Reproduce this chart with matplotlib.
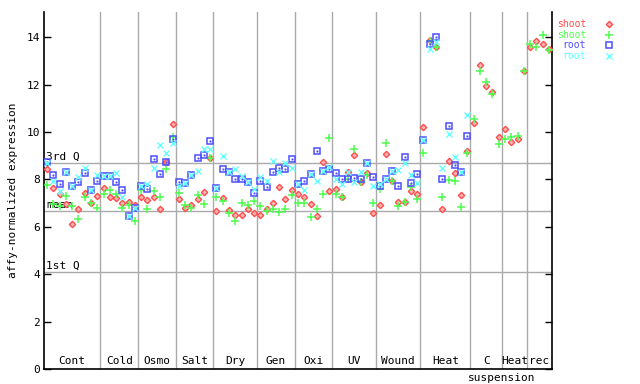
import numpy as np
import matplotlib
matplotlib.use("Agg")
import matplotlib.pyplot as plt
from matplotlib.transforms import blended_transform_factory

# --- data ---
groups = ["Cont", "Cold", "Osmo", "Salt", "Dry", "Gen", "Oxi", "UV", "Wound",
          "Heat", "C", "Heat", "rec"]
group_sizes = [9, 6, 6, 6, 7, 6, 6, 7, 7, 8, 5, 4, 4]

shoot_red = [8.42, 7.62, 7.37, 6.96, 6.12, 6.73, 7.41, 7.00, 7.30,
             7.62, 7.24, 7.20, 6.99, 7.05, 6.90,
             7.24, 7.13, 7.27, 6.74, 8.72, 10.34,
             7.19, 6.78, 6.90, 7.16, 7.47, 8.90,
             6.65, 7.22, 6.71, 6.51, 6.51, 6.74, 6.57,
             6.48, 6.74, 6.99, 7.66, 7.16, 7.55,
             7.37, 7.27, 6.94, 6.46, 8.72, 7.51,
             7.58, 7.27, 8.30, 9.01, 7.87, 8.25, 6.57,
             6.90, 9.07, 7.91, 7.03, 7.06, 7.53, 7.38,
             10.20, 13.88, 13.57, 6.74, 8.76, 8.25, 7.32, 9.18,
             10.39, 12.81, 11.93, 11.70, 9.77,
             10.11, 9.58, 9.70, 12.57,
             13.57, 13.82, 13.69, 13.52]

shoot_green = [7.76, 6.96, 6.86, 7.30, 6.88, 6.33, 7.24, 7.00, 6.79,
               7.37, 7.55, 7.37, 6.79, 6.90, 6.23,
               7.55, 6.74, 7.49, 7.24, 8.45, 9.80,
               7.41, 6.90, 6.79, 7.32, 6.96, 8.90,
               7.24, 7.07, 6.57, 6.23, 6.99, 6.90, 7.07,
               6.88, 6.65, 6.74, 6.62, 6.76, 7.32,
               6.99, 6.99, 6.40, 6.74, 7.37, 9.73,
               7.37, 7.27, 8.00, 9.27, 7.87, 8.20, 6.99,
               7.60, 9.52, 7.95, 6.86, 7.06, 7.66, 7.19,
               9.10, 13.85, 13.57, 7.24, 7.96, 7.91, 6.82, 9.10,
               10.56, 12.56, 12.11, 11.60, 9.49,
               9.70, 9.77, 9.85, 12.57,
               13.73, 13.60, 14.07, 13.44]

nan = np.nan
root_blue = [8.72, 8.19, 7.79, 8.33, 7.72, 7.89, 8.26, 7.55, 7.93,
             8.14, 8.14, 7.89, 7.55, 6.46, 6.79,
             7.74, 7.60, 8.85, 8.23, 8.72, 9.70,
             7.89, 7.83, 8.20, 8.89, 9.01, 9.60,
             7.64, 8.42, 8.31, 8.00, 8.00, 7.87, 7.41,
             7.93, 7.66, 8.30, 8.46, 8.42, 8.85,
             7.79, 7.93, 8.21, 9.20, 8.37, 8.42,
             8.27, 8.00, 8.00, 8.04, 8.03, 8.68, 8.11,
             7.72, 8.00, 8.35, 7.74, 8.93, 7.83, 8.21,
             9.68, 13.71, 13.99, 8.00, 10.23, 8.59, 8.29, 9.85,
             nan, nan, nan, nan, nan,
             nan, nan, nan, nan,
             nan, nan, nan, nan]

root_cyan = [8.70, 7.93, 7.52, 8.33, 7.72, 8.10, 8.48, 7.55, 8.19,
             8.14, 8.14, 8.26, 7.27, 6.46, 6.79,
             7.70, 7.81, 8.50, 9.43, 9.10, 9.52,
             7.72, 7.83, 8.20, 8.34, 9.27, 9.30,
             7.64, 8.97, 8.31, 8.45, 8.14, 7.87, 7.60,
             8.08, 7.93, 8.76, 8.29, 8.71, 8.46,
             7.79, 7.55, 8.21, 7.93, 8.37, 8.54,
             8.03, 7.79, 8.31, 7.90, 8.30, 8.68, 7.71,
             7.80, 8.00, 8.35, 8.38, 8.68, 8.17, 7.83,
             9.68, 13.49, 13.78, 8.46, 9.90, 8.93, 8.29, 10.72,
             nan, nan, nan, nan, nan,
             nan, nan, nan, nan,
             nan, nan, nan, nan]

q3_value = 8.69
mean_value = 6.67
q1_value = 4.09

# --- figure ---
MONO = "DejaVu Sans Mono"
plt.rcParams["font.family"] = MONO
fig = plt.figure(figsize=(6.4, 3.84), dpi=100)
ax = fig.add_axes([44 / 640, 15 / 384, 508 / 640, 357 / 384])

n = sum(group_sizes)
x = np.arange(n)

RED = "#ff4d4d"
GREEN = "#4dff4d"
BLUE = "#4d4dff"
CYAN = "#66ffff"
GRID = "#aaaaaa"

# separateurs verticaux entre conditions
edges = np.cumsum(group_sizes)
for e in edges[:-1]:
    ax.axvline(e - 0.5, color=GRID, lw=1, zorder=1)

# lignes quartiles / moyenne
ax_x = blended_transform_factory(ax.transAxes, ax.transData)
for val, lab in [(q3_value, "3rd Q"), (mean_value, "mean"), (q1_value, "1st Q")]:
    ax.axhline(val, color=GRID, lw=1, zorder=1)
    ax.text(0.004, val + 0.05, lab, transform=ax_x, fontsize=8, va="bottom", ha="left")

# points
red_mk = dict(marker="D", ms=3.2, mfc="#ffb3b3", mec=RED, mew=1.0)
green_mk = dict(marker="+", ms=5.5, mec=GREEN, mew=1.1)
blue_mk = dict(marker="s", ms=4.2, mfc="none", mec=BLUE, mew=1.1)
cyan_mk = dict(marker="x", ms=4.0, mec=CYAN, mew=1.0)

ax.plot(x, shoot_red, ls="none", zorder=3, **red_mk)
ax.plot(x, shoot_green, ls="none", zorder=4, **green_mk)
ax.plot(x, root_blue, ls="none", zorder=5, **blue_mk)
ax.plot(x, root_blue, ls="none", marker="s", ms=1.0, mfc=BLUE, mec=BLUE, mew=0.3, zorder=5)
ax.plot(x, root_cyan, ls="none", zorder=6, **cyan_mk)

ax.set_xlim(-0.5, n - 0.5)
ax.set_ylim(0, 15.06)
ax.set_yticks(range(0, 15, 2))
ax.set_xticks([])
ax.tick_params(axis="y", direction="in", length=5, width=1, labelsize=8,
               right=True, pad=3)
ax.spines["top"].set_visible(False)
for s in ["left", "right", "bottom"]:
    ax.spines[s].set_linewidth(1.2)
ax.set_ylabel("affy-normalized expression", fontsize=8, labelpad=6)

# etiquettes des conditions
ax_y = blended_transform_factory(ax.transData, ax.transAxes)
start = 0
for name, size in zip(groups, group_sizes):
    cx = start + (size - 1) / 2
    ax.text(cx, 0.008, name, transform=ax_y, fontsize=8, ha="center", va="bottom")
    if name == "C":
        ax.text(cx + 2.4, -0.012, "suspension", transform=ax_y, fontsize=8,
                ha="center", va="top")
    start += size

# legende a droite, hors du cadre
leg_items = [("shoot", RED, red_mk), ("shoot", GREEN, green_mk),
             ("root", BLUE, blue_mk), ("root", CYAN, cyan_mk)]
for k, (lab, col, mk) in enumerate(leg_items):
    yy = 1 - (24 + k * 10.7) / 384
    fig.text(586 / 640, yy, lab, color=col, fontsize=7, ha="right", va="center")
    fig.lines.append(plt.Line2D([609 / 640], [yy], transform=fig.transFigure,
                                ls="none", **mk))

fig.savefig("out.png", dpi=100)
